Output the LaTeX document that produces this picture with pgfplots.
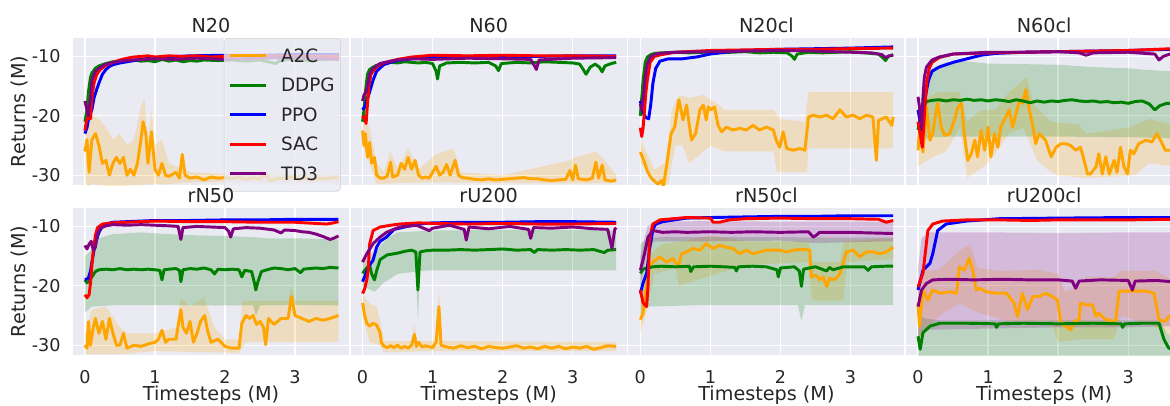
\documentclass[border=0pt]{standalone}
\usepackage{fontspec}
\setmainfont{DejaVu Sans}
\usepackage{pgfplots}
\pgfplotsset{compat=1.18}
\definecolor{bgc}{HTML}{EAEAF2}
\definecolor{txt}{HTML}{262626}
\definecolor{cA}{HTML}{FFA500}
\definecolor{cD}{HTML}{008000}
\definecolor{cP}{HTML}{0000FF}
\definecolor{cS}{HTML}{FF0000}
\definecolor{cT}{HTML}{800080}
\newcommand\tfs{\fontsize{13.2}{15}\selectfont}
\newcommand\lfs{\fontsize{14.4}{17}\selectfont}
\newcommand\gfs{\fontsize{13.8}{16}\selectfont}
\pgfplotsset{
  base/.style={scale only axis, width=207pt, height=110.25pt,
    xmin=-0.17, xmax=3.77, ymin=-31.65, ymax=-6.9,
    axis background/.style={fill=bgc},
    axis line style={draw=none},
    grid=major, grid style={white, line width=1pt},
    major tick length=0pt,
    xtick={0,1,2,3}, ytick={-30,-20,-10},
    xticklabels={0,1,2,3}, yticklabels={-30,-20,-10},
    /pgf/number format/assume math mode=true,
    tick label style={font=\tfs, text=txt},
    xticklabel style={yshift=-8pt},
    yticklabel style={xshift=-5.8pt},
    every axis title/.style={at={(0.5,1)}, anchor=south, yshift=0.5pt, font=\lfs, text=txt},
    every axis y label/.style={at={(rel axis cs:-0.194,0.5)}, rotate=90, anchor=center, font=\lfs, text=txt},
    every axis x label/.style={at={(rel axis cs:0.5,-0.272)}, anchor=center, font=\lfs, text=txt},
  },
  noy/.style={yticklabels={}},
  nox/.style={xticklabels={}},
  ln/.style={#1, line width=2.2pt, line join=round},
  band/.style={fill=#1, fill opacity=0.2, draw=none, forget plot},
}
\begin{document}
\begin{tikzpicture}
\useasboundingbox (0,0) rectangle (877.5pt,303.75pt);
\clip (0,0) rectangle (877.5pt,303.75pt);

% ---------------- N20 ----------------
\begin{axis}[base, nox, at={(54.75pt,275.25pt)}, anchor=north west, title={N20}, ylabel={Returns (M)},
  legend style={at={(0.971,1)}, anchor=north east, fill=bgc, fill opacity=0.8, text opacity=1, draw=black!18, rounded corners=3pt, font=\gfs, text=txt, inner xsep=3.5pt, inner ysep=7.5pt, row sep=10.7pt, column sep=9pt, nodes={inner sep=1pt, text height=9.4pt, text depth=0pt}},
  legend cell align=left,
  legend image code/.code={\draw[#1, line width=2.2pt] (0pt,0pt) -- (27pt,0pt);}]
\addplot[band=cA] coordinates {(0,-21) (0.1,-20) (0.2,-20.5) (0.3,-22) (0.4,-24) (0.5,-23) (0.6,-25) (0.7,-24) (0.8,-18.5) (0.85,-17) (0.9,-24) (0.95,-19) (1.0,-25) (1.1,-24) (1.2,-28) (1.3,-28.5) (1.5,-29.5) (2,-29.8) (3.63,-29.8)
 (3.63,-31.2) (2,-31.1) (1.5,-31.2) (1.2,-31.5) (1.0,-31.5) (0.6,-31.8) (0.3,-31.8) (0.1,-31.5) (0.05,-32) (0,-31)};
\addplot[ln=cA] coordinates {(0,-26) (0.03,-24) (0.06,-29.5) (0.1,-24) (0.15,-23) (0.2,-25) (0.25,-28) (0.3,-27.5) (0.35,-30) (0.4,-28) (0.45,-27) (0.5,-28) (0.55,-27) (0.6,-30) (0.65,-29) (0.7,-30) (0.75,-28) (0.8,-24) (0.83,-21) (0.87,-23) (0.9,-28) (0.95,-22.7) (1.0,-29) (1.05,-30) (1.1,-28) (1.15,-30) (1.2,-30.2) (1.3,-29.5) (1.35,-30.5) (1.39,-26.5) (1.43,-30) (1.5,-30.5) (1.6,-30.3) (1.7,-30.8) (1.8,-30.3) (1.9,-30.5) (2.0,-30.4) (2.1,-30.6) (2.2,-30.3) (2.3,-30.7) (2.4,-30.4) (2.5,-30.6) (2.58,-29.8) (2.65,-31) (2.75,-30.5) (2.85,-30.6) (2.95,-30.3) (3.05,-30.7) (3.15,-30.4) (3.25,-30.8) (3.35,-30.5) (3.45,-30.6) (3.55,-30.4) (3.63,-30.5)};
\addlegendentry{A2C}
\addplot[ln=cD] coordinates {(0,-21) (0.03,-19) (0.05,-16) (0.08,-13.5) (0.1,-12.8) (0.15,-12) (0.2,-11.6) (0.3,-11.2) (0.4,-10.9) (0.5,-10.8) (0.6,-10.9) (0.7,-10.6) (0.8,-10.8) (0.9,-10.7) (1.0,-10.9) (1.1,-10.5) (1.2,-10.8) (1.3,-10.6) (1.4,-10.9) (1.5,-10.7) (1.6,-10.8) (1.7,-10.6) (1.9,-10.7) (2.1,-10.6) (2.3,-10.8) (2.5,-10.6) (2.72,-11.2) (2.8,-10.6) (3.0,-10.5) (3.2,-10.7) (3.4,-10.5) (3.63,-10.4)};
\addlegendentry{DDPG}
\addplot[ln=cP] coordinates {(0,-23) (0.03,-22) (0.06,-20) (0.1,-19) (0.13,-17) (0.17,-15.5) (0.2,-14.5) (0.25,-13) (0.3,-12.2) (0.35,-11.7) (0.4,-11.4) (0.5,-11.1) (0.6,-10.9) (0.7,-10.7) (0.8,-10.5) (1.0,-10.2) (1.2,-10.1) (1.5,-9.9) (2,-9.8) (2.5,-9.8) (3,-9.7) (3.63,-9.7)};
\addlegendentry{PPO}
\addplot[ln=cS] coordinates {(0,-22.5) (0.02,-21) (0.05,-20) (0.08,-20.5) (0.1,-17) (0.13,-14.5) (0.17,-13) (0.22,-12.2) (0.3,-11.5) (0.4,-11) (0.5,-10.6) (0.6,-10.3) (0.7,-10.1) (0.8,-10) (0.9,-9.9) (1.0,-10.1) (1.2,-9.9) (1.4,-10) (1.6,-9.9) (1.8,-10.1) (2,-10) (2.5,-9.9) (3,-10) (3.63,-10)};
\addlegendentry{SAC}
\addplot[ln=cT] coordinates {(0,-17.5) (0.02,-18.5) (0.05,-20) (0.08,-17) (0.1,-14) (0.15,-12.5) (0.2,-12) (0.3,-11.3) (0.5,-10.8) (0.7,-10.6) (1.0,-10.4) (1.3,-10.5) (1.6,-10.3) (2,-10.5) (2.5,-10.3) (3,-10.2) (3.63,-10.5)};
\addlegendentry{TD3}
\end{axis}

% ---------------- N60 ----------------
\begin{axis}[base, nox, noy, at={(263.0pt,275.25pt)}, anchor=north west, title={N60}]
\addplot[band=cA] coordinates {(0,-20) (0.05,-21) (0.1,-22) (0.15,-25) (0.2,-28) (0.3,-29.5) (0.4,-26) (0.5,-29) (0.65,-25.5) (0.8,-29) (1.05,-26.5) (1.3,-25.5) (1.4,-29.5) (2,-30) (2.96,-27.5) (3.04,-27) (3.33,-26) (3.42,-27) (3.62,-30)
 (3.62,-31.3) (3,-31.4) (2,-31.3) (1,-31.2) (0.5,-31.3) (0.2,-31.5) (0.1,-28) (0,-25)};
\addplot[ln=cA] coordinates {(0,-22.5) (0.02,-25) (0.04,-23) (0.07,-27) (0.1,-24.5) (0.13,-28) (0.17,-27) (0.2,-30) (0.25,-30.5) (0.3,-30.5) (0.35,-30.2) (0.4,-27.8) (0.43,-30.3) (0.5,-30) (0.55,-28) (0.6,-29) (0.65,-27) (0.7,-29) (0.75,-27.5) (0.8,-30) (0.85,-30.5) (0.9,-30.3) (0.95,-30.5) (1.0,-29.5) (1.05,-28.5) (1.1,-30) (1.15,-29.5) (1.2,-28.2) (1.25,-30) (1.32,-27.5) (1.37,-30) (1.42,-30.4) (1.5,-30.5) (1.6,-30.7) (1.7,-30.8) (1.8,-30.6) (1.9,-30.8) (2.0,-30.7) (2.1,-30.6) (2.2,-30.5) (2.3,-30.4) (2.4,-30.6) (2.5,-30.6) (2.6,-30.8) (2.7,-30.9) (2.8,-30.8) (2.9,-30.7) (2.96,-29.2) (3.0,-30.8) (3.04,-28.3) (3.08,-30.6) (3.2,-30.8) (3.28,-30.5) (3.33,-27.8) (3.37,-30.5) (3.42,-28.3) (3.46,-30.8) (3.55,-31) (3.62,-30.8)};
\addplot[ln=cD] coordinates {(0,-21) (0.02,-19) (0.04,-16) (0.07,-13) (0.1,-12.2) (0.15,-11.8) (0.2,-11.5) (0.3,-11.2) (0.4,-11) (0.5,-11.1) (0.6,-10.9) (0.7,-11) (0.8,-11.1) (0.9,-11) (1.0,-11.2) (1.05,-12.5) (1.07,-13.8) (1.1,-11.6) (1.2,-11.1) (1.4,-11) (1.6,-11.1) (1.8,-11) (1.9,-11.6) (1.94,-12.4) (1.98,-11.2) (2.2,-11) (2.4,-11.1) (2.6,-10.9) (2.8,-11) (3.0,-11.1) (3.1,-11.3) (3.15,-12.2) (3.19,-13) (3.25,-11.8) (3.32,-11.3) (3.38,-11.8) (3.42,-12.6) (3.46,-11.6) (3.55,-11.2) (3.62,-11)};
\addplot[ln=cP] coordinates {(0,-19) (0.03,-18.5) (0.06,-17.5) (0.1,-16) (0.15,-14) (0.2,-12.5) (0.3,-11.4) (0.4,-11) (0.5,-10.7) (0.7,-10.4) (1,-10.2) (1.5,-10.1) (2,-10) (2.5,-10) (3,-9.9) (3.62,-9.9)};
\addplot[ln=cS] coordinates {(0,-20) (0.03,-20.5) (0.05,-21.3) (0.07,-18) (0.09,-15) (0.12,-13) (0.2,-11.7) (0.3,-11.1) (0.4,-10.8) (0.5,-10.5) (0.6,-10.3) (0.7,-10.1) (0.8,-10) (1,-9.8) (1.5,-9.9) (2,-9.8) (2.5,-9.9) (3,-9.9) (3.62,-10)};
\addplot[ln=cT] coordinates {(0,-17.5) (0.02,-16.5) (0.05,-16) (0.08,-14.5) (0.1,-13) (0.15,-12) (0.25,-11.2) (0.4,-10.8) (0.5,-10.6) (0.7,-10.4) (1,-10.5) (1.5,-10.3) (2,-10.4) (2.4,-10.5) (2.45,-11.5) (2.48,-12.2) (2.52,-10.6) (3,-10.3) (3.62,-10.2)};
\end{axis}

% ---------------- N20cl ----------------
\begin{axis}[base, nox, noy, at={(471.3pt,275.25pt)}, anchor=north west, title={N20cl}]
\addplot[band=cA] coordinates {(0,-24) (0.2,-29) (0.35,-28) (0.4,-24) (0.45,-19) (0.55,-16.5) (0.7,-17) (0.9,-16.5) (1.1,-18) (1.2,-19) (1.5,-19) (1.9,-19) (2.0,-20.5) (2.35,-21) (2.4,-16) (3.61,-16)
 (3.61,-25.5) (2.4,-25.5) (2.38,-29.5) (1.95,-29.5) (1.9,-26) (1.2,-26) (1.0,-25) (0.8,-27) (0.7,-28) (0.6,-25) (0.5,-25) (0.4,-31.5) (0.3,-32) (0,-28)};
\addplot[ln=cA] coordinates {(0,-26.1) (0.05,-27.5) (0.1,-29.3) (0.15,-30.4) (0.2,-31) (0.25,-31.5) (0.3,-30.9) (0.33,-31.8) (0.38,-28) (0.44,-23) (0.49,-21.9) (0.55,-17.3) (0.61,-20.7) (0.66,-18.2) (0.73,-24.1) (0.79,-23) (0.85,-19) (0.9,-18.2) (0.94,-20.7) (0.97,-18.5) (1.01,-19) (1.06,-18.5) (1.11,-21.6) (1.16,-22.7) (1.23,-21.9) (1.32,-22.4) (1.42,-22.1) (1.51,-22.4) (1.61,-21.6) (1.7,-22.4) (1.8,-21.9) (1.9,-22.4) (1.94,-24.1) (1.99,-25.3) (2.04,-22.7) (2.09,-25.5) (2.18,-25.8) (2.28,-25.5) (2.35,-25.8) (2.4,-20.2) (2.47,-19.9) (2.56,-20.2) (2.66,-19.9) (2.75,-20.5) (2.85,-19) (2.94,-20.2) (3.04,-19.9) (3.13,-20.5) (3.23,-19.9) (3.32,-20.2) (3.37,-27.5) (3.4,-20.8) (3.51,-20.2) (3.59,-21.6) (3.61,-20.2)};
\addplot[ln=cD] coordinates {(0,-20) (0.02,-17) (0.04,-14) (0.07,-11) (0.1,-10.1) (0.15,-9.7) (0.2,-9.5) (0.3,-9.4) (0.5,-9.3) (0.7,-9.4) (0.9,-9.3) (1.1,-9.4) (1.3,-9.3) (1.5,-9.2) (1.7,-9.4) (1.9,-9.3) (2.1,-9.4) (2.17,-10) (2.2,-10.5) (2.24,-9.6) (2.4,-9.3) (2.6,-9.4) (2.8,-9.3) (3.0,-9.2) (3.2,-9.4) (3.4,-9.6) (3.47,-10.3) (3.5,-10.7) (3.54,-10) (3.61,-9.7)};
\addplot[ln=cP] coordinates {(0,-17.5) (0.04,-19.5) (0.08,-20.3) (0.12,-20.5) (0.15,-18) (0.18,-14.5) (0.22,-12) (0.28,-10.8) (0.4,-10.4) (0.6,-10.4) (0.8,-10.1) (1.0,-9.6) (1.2,-9.3) (1.5,-9.0) (2,-8.8) (2.5,-8.7) (3,-8.6) (3.61,-8.4)};
\addplot[ln=cS] coordinates {(0,-22) (0.02,-23.5) (0.04,-22) (0.06,-19) (0.08,-16) (0.1,-14) (0.14,-11) (0.2,-10) (0.3,-9.7) (0.5,-9.3) (1,-9) (1.5,-8.9) (2,-8.8) (2.5,-8.8) (3,-8.7) (3.61,-8.6)};
\addplot[ln=cT] coordinates {(0,-18) (0.02,-19) (0.05,-16) (0.08,-12.5) (0.1,-11.3) (0.15,-10) (0.25,-9.5) (0.5,-9.3) (1,-9.2) (1.5,-9.1) (2,-9) (2.5,-9.1) (3,-9.3) (3.3,-9.4) (3.45,-9.7) (3.5,-10.2) (3.55,-9.9) (3.61,-9.8)};
\end{axis}

% ---------------- N60cl ----------------
\begin{axis}[base, nox, noy, at={(679.6pt,275.25pt)}, anchor=north west, title={N60cl}]
\addplot[band=cA] coordinates {(0,-21) (0.1,-17) (0.3,-16) (0.6,-16) (0.7,-21) (0.9,-19) (1.1,-19) (1.3,-16) (1.55,-13.5) (1.65,-18) (1.9,-21) (2.3,-21.5) (2.4,-23) (3.0,-22) (3.3,-20.5) (3.62,-21.5)
 (3.62,-28.5) (3.3,-28) (3.1,-30) (2.4,-30.5) (2.0,-30) (1.9,-29.5) (1.7,-27.5) (1.5,-22) (1.3,-23) (1.0,-28) (0.7,-30.5) (0.6,-22) (0.4,-26) (0.2,-27) (0,-28.5)};
\addplot[band=cD] coordinates {(0,-20) (0.1,-14) (0.2,-12) (0.4,-11) (0.65,-10.8) (1,-11.2) (1.5,-11.3) (2,-11.4) (2.5,-11.8) (3,-12) (3.3,-12.3) (3.62,-12.5)
 (3.62,-23.8) (3,-23.6) (2,-23.5) (1,-23.5) (0.5,-23.5) (0.2,-23.6) (0.1,-24) (0,-25)};
\addplot[ln=cA] coordinates {(0,-25.8) (0.03,-20.7) (0.07,-26.1) (0.12,-18.5) (0.17,-24.1) (0.21,-23) (0.26,-19) (0.28,-17.9) (0.33,-21.9) (0.38,-23.3) (0.45,-23) (0.52,-20.7) (0.57,-18.5) (0.62,-17.9) (0.66,-23) (0.71,-27.5) (0.76,-26.4) (0.81,-24.1) (0.85,-26.9) (0.9,-22.4) (0.95,-25.8) (1.0,-21.9) (1.04,-26.9) (1.09,-23) (1.14,-25.3) (1.18,-21.9) (1.23,-20.7) (1.3,-19) (1.35,-21.9) (1.4,-19.6) (1.45,-17.3) (1.49,-17.9) (1.54,-15.6) (1.59,-19) (1.64,-21.9) (1.68,-24.7) (1.73,-23) (1.82,-24.1) (1.9,-26.9) (1.97,-25.3) (2.04,-24.7) (2.11,-24.7) (2.18,-25) (2.25,-25.8) (2.32,-25.3) (2.37,-27.5) (2.42,-29.8) (2.46,-29.8) (2.54,-28.6) (2.58,-26.4) (2.63,-29.8) (2.68,-26.9) (2.73,-29.8) (2.8,-27.5) (2.84,-29.5) (2.89,-25.3) (2.94,-28.6) (2.99,-29.8) (3.03,-25.8) (3.08,-26.4) (3.15,-24.7) (3.25,-24.1) (3.34,-24.4) (3.41,-23) (3.46,-24.1) (3.53,-25.8) (3.62,-25.8)};
\addplot[ln=cD] coordinates {(0,-22.4) (0.02,-21) (0.05,-20) (0.08,-18.5) (0.12,-17.6) (0.2,-17.4) (0.3,-17.3) (0.4,-17.5) (0.5,-17.3) (0.6,-17.4) (0.7,-17.2) (0.8,-17.4) (0.9,-17.3) (1.0,-17.5) (1.1,-17.3) (1.2,-17.4) (1.3,-17.6) (1.4,-17.3) (1.5,-17.5) (1.6,-17.8) (1.7,-17.5) (1.8,-17.7) (1.9,-17.5) (2.0,-17.6) (2.1,-17.4) (2.2,-17.3) (2.3,-17.5) (2.4,-17.6) (2.5,-17.5) (2.6,-17.7) (2.7,-17.6) (2.8,-17.8) (2.9,-17.7) (3.0,-17.9) (3.1,-17.6) (3.2,-17.5) (3.3,-18) (3.38,-19) (3.45,-18.3) (3.55,-17.9) (3.62,-17.9)};
\addplot[ln=cP] coordinates {(0,-19) (0.03,-21) (0.06,-22.5) (0.08,-20) (0.1,-17) (0.15,-14) (0.2,-12.5) (0.3,-11.8) (0.5,-11) (0.7,-10.4) (0.9,-9.8) (1.1,-9.5) (1.5,-9.3) (2,-9.2) (2.5,-9.1) (3,-9) (3.62,-8.8)};
\addplot[ln=cS] coordinates {(0,-21) (0.03,-23) (0.06,-25.3) (0.08,-22) (0.1,-18) (0.13,-14) (0.16,-12) (0.2,-11) (0.3,-10.2) (0.5,-9.6) (1,-9.4) (1.5,-9.3) (2,-9.2) (2.5,-9.1) (3,-9) (3.62,-8.7)};
\addplot[ln=cT] coordinates {(0,-16.8) (0.02,-18.5) (0.04,-21) (0.05,-22) (0.07,-17) (0.09,-13.5) (0.12,-11.8) (0.2,-10.6) (0.3,-10.1) (0.5,-9.6) (1,-9.3) (1.5,-9.3) (2,-9.2) (2.3,-9.4) (2.4,-9.8) (2.5,-9.4) (3,-9.3) (3.38,-9.6) (3.44,-10.6) (3.5,-10) (3.62,-9.5)};
\end{axis}

% ---------------- rN50 ----------------
\begin{axis}[base, at={(54.75pt,147.75pt)}, anchor=north west, title={rN50}, ylabel={Returns (M)}, xlabel={Timesteps (M)}]
\addplot[band=cA] coordinates {(0,-28) (0.1,-24) (0.3,-23.5) (0.5,-27) (0.6,-28) (1.0,-28) (1.3,-27) (1.37,-22) (1.5,-23.5) (1.7,-22) (1.85,-27) (2.0,-29) (2.2,-29) (2.25,-22.5) (2.9,-22.5) (2.95,-20) (3.0,-22.5) (3.62,-22.5)
 (3.62,-29.5) (2.3,-29.5) (2.2,-31.3) (1.0,-31) (0.5,-31.5) (0,-31.5)};
\addplot[band=cD] coordinates {(0,-15) (0.1,-14) (0.2,-12) (0.4,-11.3) (0.8,-11) (1.2,-11.3) (1.6,-11.5) (2,-11.6) (2.4,-11.8) (2.6,-12) (3,-12) (3.62,-12.2)
 (3.62,-23.3) (3,-23.2) (2.5,-23.3) (2.44,-25) (2.4,-23.3) (2,-23.3) (1.5,-23.3) (1,-23.2) (0.5,-23.2) (0.1,-23.5) (0,-24.5)};
\addplot[ln=cA] coordinates {(0,-30) (0.03,-30.5) (0.05,-26) (0.08,-30) (0.12,-27) (0.15,-25.5) (0.2,-28) (0.25,-26) (0.3,-29) (0.35,-25.5) (0.4,-28) (0.45,-30) (0.5,-30) (0.55,-28) (0.6,-30.5) (0.7,-30) (0.8,-30.2) (0.9,-29.8) (1.0,-29.5) (1.05,-29) (1.1,-27.5) (1.15,-29.5) (1.2,-29) (1.3,-29) (1.37,-24) (1.4,-27) (1.45,-28) (1.5,-26) (1.55,-29.5) (1.6,-28) (1.65,-26) (1.71,-25) (1.75,-27.5) (1.8,-29.5) (1.9,-29) (2.0,-30.2) (2.1,-30.5) (2.2,-30.5) (2.24,-26.3) (2.3,-25) (2.35,-25.5) (2.4,-25) (2.45,-26.5) (2.5,-26) (2.55,-27) (2.58,-29.9) (2.62,-25.5) (2.7,-26.5) (2.8,-25.5) (2.9,-25.5) (2.95,-21.8) (3.0,-25) (3.1,-25.5) (3.2,-26) (3.3,-25.5) (3.4,-25.8) (3.5,-25.5) (3.62,-25)};
\addplot[ln=cD] coordinates {(0,-19) (0.03,-19.5) (0.06,-19.2) (0.1,-18.5) (0.15,-17.6) (0.2,-17.3) (0.3,-17.2) (0.4,-17.3) (0.5,-17.1) (0.6,-17.3) (0.7,-17.2) (0.8,-17.3) (0.9,-17.2) (1.0,-17.3) (1.07,-17.4) (1.1,-19) (1.13,-17.3) (1.2,-17.2) (1.3,-17.1) (1.35,-17.4) (1.37,-19.3) (1.4,-17.3) (1.5,-17.1) (1.6,-17.2) (1.7,-17) (1.8,-17.3) (1.85,-18) (1.9,-17.2) (2.0,-17.3) (2.1,-17.2) (2.2,-17.3) (2.24,-18.5) (2.28,-17.4) (2.38,-17.6) (2.42,-19.5) (2.44,-20.7) (2.47,-19.3) (2.52,-17.6) (2.6,-17.3) (2.7,-17) (2.8,-17.1) (2.9,-17.3) (3.0,-17.1) (3.08,-17.8) (3.12,-17.2) (3.2,-17.1) (3.3,-17) (3.4,-17.1) (3.5,-16.9) (3.62,-17)};
\addplot[ln=cP] coordinates {(0,-19) (0.05,-18.7) (0.08,-17.5) (0.1,-16) (0.13,-14) (0.16,-12.5) (0.2,-11) (0.25,-10) (0.3,-9.6) (0.4,-9.3) (0.6,-9.2) (1,-9) (1.5,-9) (2,-8.9) (2.5,-8.9) (3,-8.8) (3.62,-8.8)};
\addplot[ln=cS] coordinates {(0,-21.5) (0.03,-22) (0.06,-21.5) (0.08,-19.5) (0.1,-16.5) (0.12,-14) (0.15,-11.5) (0.18,-10.2) (0.25,-9.6) (0.4,-9.4) (0.6,-9.3) (1,-9.1) (1.5,-9.2) (2,-9.2) (2.5,-9.3) (3,-9.3) (3.3,-9.5) (3.45,-9.6) (3.55,-9.4) (3.62,-9.2)};
\addplot[ln=cT] coordinates {(0,-13.2) (0.03,-13.8) (0.06,-13) (0.09,-12.5) (0.12,-14) (0.15,-13.5) (0.18,-11.2) (0.22,-10.3) (0.3,-9.9) (0.4,-9.7) (0.6,-9.8) (0.8,-9.7) (1,-9.8) (1.2,-9.9) (1.33,-10) (1.37,-12.2) (1.4,-10.2) (1.6,-10) (1.8,-10.1) (2.0,-10.2) (2.05,-10.8) (2.08,-11.8) (2.12,-10.4) (2.3,-10.2) (2.5,-10.3) (2.7,-10.6) (2.8,-11.1) (2.85,-10.6) (3.0,-10.7) (3.1,-10.9) (3.2,-11) (3.3,-11.3) (3.4,-11.7) (3.5,-12.2) (3.55,-12) (3.62,-11.6)};
\end{axis}

% ---------------- rU200 ----------------
\begin{axis}[base, noy, at={(263.0pt,147.75pt)}, anchor=north west, title={rU200}, xlabel={Timesteps (M)}]
\addplot[band=cA] coordinates {(0,-21.5) (0.1,-23) (0.2,-23.5) (0.27,-27) (0.3,-29.3) (0.7,-29.3) (0.74,-26.5) (0.78,-29.3) (1.05,-29.3) (1.09,-20.3) (1.13,-29.3) (3.62,-29.5)
 (3.62,-31) (1,-31) (0.3,-31.2) (0.25,-30) (0.1,-29.5) (0,-25)};
\addplot[band=cD] coordinates {(0,-16) (0.2,-14) (0.35,-12) (0.5,-11) (1,-10.7) (2,-10.6) (3,-10.6) (3.62,-10.7)
 (3.62,-17.4) (3,-17.4) (2,-17.4) (1,-17.4) (0.82,-17.5) (0.79,-26) (0.76,-17.6) (0.5,-18) (0.3,-19.5) (0.17,-21) (0,-20)};
\addplot[ln=cA] coordinates {(0,-22.9) (0.03,-25) (0.06,-26.3) (0.1,-26.8) (0.15,-26.3) (0.2,-26.6) (0.25,-27.9) (0.27,-29.6) (0.3,-30.1) (0.35,-30.4) (0.4,-30.1) (0.45,-30.4) (0.5,-30) (0.55,-30.5) (0.6,-30.2) (0.65,-30.5) (0.7,-30) (0.74,-28.2) (0.77,-30.2) (0.8,-29.5) (0.85,-30.3) (0.9,-30.1) (1.0,-30.4) (1.05,-29.5) (1.09,-23.5) (1.12,-30) (1.2,-30.3) (1.3,-30.5) (1.4,-30.1) (1.5,-30.4) (1.6,-30.2) (1.7,-30.6) (1.8,-30.2) (1.9,-30.4) (2.0,-30.5) (2.1,-30.3) (2.2,-30.1) (2.3,-30.5) (2.4,-30.3) (2.5,-30.6) (2.6,-30.2) (2.7,-30.5) (2.8,-30.2) (2.9,-30.6) (3.0,-30.3) (3.1,-30.5) (3.2,-30.2) (3.3,-30.7) (3.4,-30.4) (3.5,-30.1) (3.62,-30.2)};
\addplot[ln=cD] coordinates {(0,-17.9) (0.05,-17.1) (0.1,-16.5) (0.13,-18) (0.17,-19) (0.2,-17.5) (0.25,-15.6) (0.3,-15.2) (0.35,-14.8) (0.5,-14.5) (0.6,-14.2) (0.7,-14) (0.76,-14.3) (0.79,-20.7) (0.82,-14.3) (0.9,-14.1) (1.0,-14) (1.2,-14) (1.4,-13.9) (1.6,-14) (1.8,-13.9) (2.0,-13.8) (2.2,-14) (2.4,-13.9) (2.45,-14.4) (2.5,-13.9) (2.7,-14) (2.9,-13.9) (3.1,-14) (3.3,-13.9) (3.45,-14.4) (3.5,-14) (3.62,-13.9)};
\addplot[ln=cP] coordinates {(0,-19.3) (0.06,-17.6) (0.1,-16.5) (0.15,-15.7) (0.2,-13.5) (0.25,-12.5) (0.34,-11.8) (0.45,-10.5) (0.6,-10.1) (0.8,-9.6) (1,-9.4) (1.5,-9.3) (2,-9.3) (2.5,-9.2) (3,-9.2) (3.62,-9.3)};
\addplot[ln=cS] coordinates {(0,-21.3) (0.03,-20.5) (0.06,-19) (0.08,-17.4) (0.1,-13) (0.15,-10.7) (0.25,-10.1) (0.4,-9.8) (0.53,-9.6) (0.8,-9.4) (1,-9.5) (1.5,-9.6) (2,-9.5) (2.5,-9.6) (3,-9.6) (3.62,-9.5)};
\addplot[ln=cT] coordinates {(0,-16) (0.06,-14.6) (0.15,-12.9) (0.25,-11.8) (0.34,-11) (0.53,-10.1) (0.77,-9.8) (0.95,-10.7) (1.0,-10.3) (1.24,-9.8) (1.45,-10.5) (1.48,-12.3) (1.52,-10.1) (1.8,-10.4) (2.1,-10) (2.37,-10.5) (2.4,-12) (2.44,-10.2) (2.7,-10.3) (3.0,-10.1) (3.3,-10.4) (3.5,-10.5) (3.56,-13.7) (3.6,-10.5) (3.62,-10.2)};
\end{axis}

% ---------------- rN50cl ----------------
\begin{axis}[base, noy, at={(471.3pt,147.75pt)}, anchor=north west, title={rN50cl}, xlabel={Timesteps (M)}]
\addplot[band=cA] coordinates {(0,-23) (0.1,-15) (0.3,-13) (0.6,-12.5) (1,-11.5) (1.5,-12.5) (2,-12.5) (2.4,-12.5) (2.45,-16) (2.85,-16) (2.9,-12.5) (3.61,-12)
 (3.61,-15.5) (2.95,-16) (2.9,-22.5) (2.45,-22.5) (2.4,-16) (1.5,-16.5) (0.55,-20) (0.5,-17) (0.2,-18) (0.1,-24) (0,-28)};
\addplot[band=cD] coordinates {(0,-13) (0.1,-12) (0.3,-11.8) (1,-11.8) (2,-11.8) (3,-11.9) (3.61,-11.9)
 (3.61,-23.2) (2.35,-23.2) (2.3,-26) (2.25,-23.2) (1,-23.2) (0.1,-23.5) (0,-25)};
\addplot[band=cT] coordinates {(0,-15) (0.1,-10) (0.2,-9.2) (1,-9.1) (2,-9.2) (3,-9.2) (3.61,-9.2)
 (3.61,-12.5) (2.5,-12.8) (2,-12.4) (1,-12.5) (0.2,-12.5) (0.1,-14) (0,-20)};
\addplot[ln=cA] coordinates {(0,-25.7) (0.04,-24.6) (0.09,-19.6) (0.13,-16.8) (0.18,-16) (0.28,-15.1) (0.37,-16) (0.47,-15.4) (0.54,-16.8) (0.59,-14.6) (0.66,-14.3) (0.75,-13.7) (0.85,-14) (0.94,-12.9) (1.04,-13.7) (1.13,-13.2) (1.23,-13.5) (1.32,-13.7) (1.42,-14.6) (1.51,-14) (1.61,-14.6) (1.7,-14.3) (1.8,-14) (1.9,-14) (1.99,-14) (2.09,-14.3) (2.18,-14) (2.28,-13.9) (2.37,-13.9) (2.42,-14) (2.44,-18.5) (2.51,-18.2) (2.56,-19) (2.61,-18.5) (2.66,-20.1) (2.7,-18.7) (2.75,-19) (2.8,-18.7) (2.85,-17.9) (2.9,-16) (2.94,-14.3) (3.04,-14) (3.13,-15.1) (3.23,-14.3) (3.32,-14.3) (3.42,-14.6) (3.51,-14.3) (3.61,-13.5)};
\addplot[ln=cD] coordinates {(0,-17.9) (0.04,-17.2) (0.09,-17) (0.18,-16.8) (0.3,-16.7) (0.5,-16.8) (0.7,-16.7) (0.72,-17.6) (0.76,-16.8) (1,-16.7) (1.2,-16.8) (1.35,-16.9) (1.37,-17.5) (1.4,-16.8) (1.6,-16.7) (1.8,-16.8) (1.95,-17.3) (1.97,-18.5) (2.0,-17) (2.2,-16.8) (2.27,-17.5) (2.3,-20.1) (2.33,-17.2) (2.5,-16.8) (2.66,-17.5) (2.7,-16.9) (2.75,-17.3) (2.9,-16.8) (3.2,-16.8) (3.25,-17.4) (3.3,-16.8) (3.5,-16.7) (3.61,-16.7)};
\addplot[ln=cP] coordinates {(0,-21.3) (0.04,-19.5) (0.09,-17.9) (0.13,-14) (0.18,-10.5) (0.22,-9.6) (0.32,-9.2) (0.66,-8.6) (1,-8.5) (1.5,-8.4) (2,-8.3) (2.5,-8.3) (3,-8.2) (3.61,-8.2)};
\addplot[ln=cS] coordinates {(0,-20.7) (0.04,-22.9) (0.09,-23.5) (0.11,-20) (0.13,-12.3) (0.18,-9.6) (0.28,-8.9) (0.66,-8.5) (1.0,-8.6) (1.04,-9.3) (1.13,-9.3) (1.27,-8.9) (1.5,-8.7) (2,-8.6) (2.5,-8.7) (3,-8.7) (3.4,-8.8) (3.51,-9.3) (3.61,-9)};
\addplot[ln=cT] coordinates {(0,-17.4) (0.06,-14.6) (0.11,-11.8) (0.18,-10.7) (0.32,-11) (0.5,-10.9) (0.66,-11) (1,-10.9) (1.3,-11) (1.6,-10.9) (2,-11) (2.4,-10.9) (2.47,-11.8) (2.51,-11.5) (2.56,-11) (3,-11) (3.3,-11.1) (3.61,-11.2)};
\end{axis}

% ---------------- rU200cl ----------------
\begin{axis}[base, noy, at={(679.6pt,147.75pt)}, anchor=north west, title={rU200cl}, xlabel={Timesteps (M)}]
\addplot[band=cA] coordinates {(0,-19) (0.1,-17.5) (0.3,-17.3) (0.6,-14) (0.75,-13) (0.85,-17) (1.2,-17.5) (1.7,-17.3) (2.0,-18) (2.1,-21) (2.3,-20) (2.4,-18.5) (2.8,-18.5) (2.9,-17.5) (3.4,-17.5) (3.62,-19)
 (3.62,-28.5) (3.4,-27) (2.9,-25) (2.8,-29) (2.3,-29) (2.0,-29.5) (1.9,-26) (1.3,-26) (0.85,-24.5) (0.6,-23) (0.3,-25) (0,-29)};
\addplot[band=cD] coordinates {(0,-25) (0.1,-25.5) (0.3,-25.8) (3.45,-25.8) (3.55,-28) (3.62,-28.5) (3.62,-35) (0,-35)};
\addplot[band=cT] coordinates {(0,-17) (0.05,-12) (0.15,-11) (1,-11) (2,-11.1) (3,-11) (3.62,-11)
 (3.62,-26.8) (3,-27) (2,-27) (1,-27.2) (0.1,-27.4) (0,-29)};
\addplot[ln=cA] coordinates {(0,-22.9) (0.02,-26.8) (0.07,-20.7) (0.14,-22.4) (0.21,-20.7) (0.31,-21.25) (0.45,-21) (0.55,-21.25) (0.59,-16.8) (0.66,-17.35) (0.73,-15.4) (0.78,-17.35) (0.83,-20.7) (0.88,-20.4) (0.97,-21) (1.11,-21.25) (1.26,-21.25) (1.37,-22.9) (1.42,-25.15) (1.49,-21.25) (1.56,-24) (1.64,-21.8) (1.73,-21.8) (1.82,-21.25) (1.92,-21.8) (1.99,-22.4) (2.04,-26.3) (2.11,-26.8) (2.18,-27.4) (2.23,-26) (2.3,-25.7) (2.32,-22.9) (2.39,-23.2) (2.49,-23.2) (2.54,-25.15) (2.58,-24.6) (2.68,-25.7) (2.82,-26) (2.87,-20.9) (3.06,-20.9) (3.25,-20.9) (3.37,-21.25) (3.44,-25.7) (3.53,-26) (3.58,-25.15) (3.62,-25)};
\addplot[ln=cD] coordinates {(0,-28.5) (0.03,-30.7) (0.07,-27.9) (0.17,-26.8) (0.31,-26.3) (0.7,-26.3) (1.1,-26.4) (1.12,-27) (1.15,-26.4) (1.5,-26.3) (2.0,-26.4) (2.5,-26.3) (2.9,-26.4) (2.92,-27) (2.95,-26.4) (3.2,-26.3) (3.44,-26.3) (3.51,-29) (3.55,-29.9) (3.58,-30.5) (3.62,-30.6)};
\addplot[ln=cP] coordinates {(0,-20.7) (0.07,-17.4) (0.17,-16.2) (0.21,-14.6) (0.28,-10.7) (0.4,-9.6) (0.69,-9.1) (1.16,-8.7) (2,-8.6) (3,-8.5) (3.62,-8.5)};
\addplot[ln=cS] coordinates {(0,-20.2) (0.07,-17.9) (0.14,-10.7) (0.21,-9.6) (0.35,-9.1) (0.69,-8.9) (1.16,-8.9) (1.6,-9) (2,-8.9) (2.5,-8.9) (3,-8.9) (3.62,-8.8)};
\addplot[ln=cT] coordinates {(0,-23.5) (0.05,-20.7) (0.12,-19.6) (0.21,-19) (0.45,-18.9) (0.8,-19) (1.2,-18.9) (1.6,-19) (2.0,-19) (2.2,-19.2) (2.25,-20.4) (2.3,-19.2) (2.6,-19) (3.0,-19.1) (3.06,-20.7) (3.1,-19.2) (3.4,-19.1) (3.62,-19.3)};
\end{axis}
\end{tikzpicture}
\end{document}
